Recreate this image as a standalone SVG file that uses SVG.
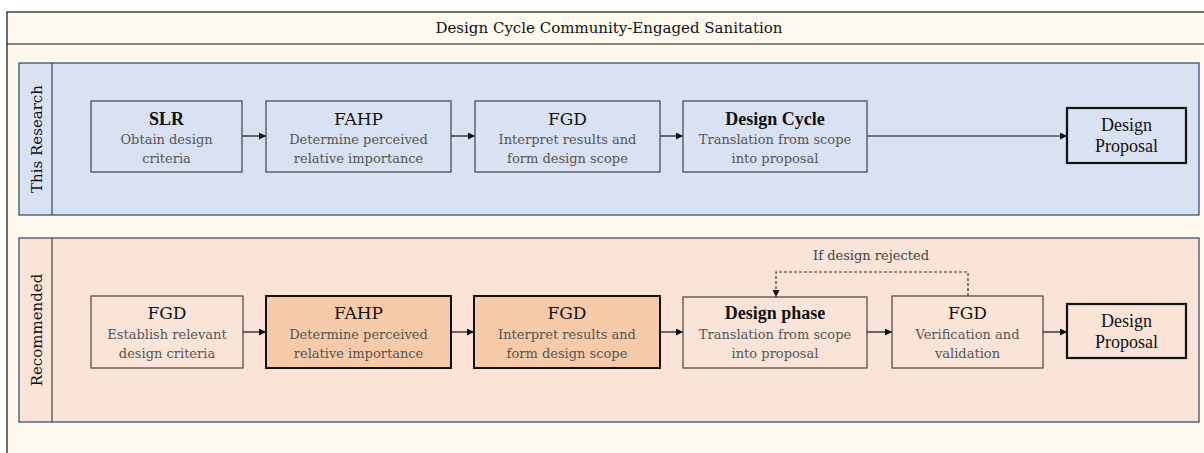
<svg xmlns="http://www.w3.org/2000/svg" width="1204" height="453" viewBox="0 0 1204 453">
<style>
text{font-family:"DejaVu Serif","Liberation Serif",serif;text-anchor:middle;}
.title{font-size:15px;fill:#111;}
.lane-label{font-size:15px;fill:#111;}
.nt{font-size:17px;fill:#111;}
.ntb{font-family:"Liberation Serif","DejaVu Serif",serif;font-size:18px;fill:#111;font-weight:bold;}
.sub{font-size:13px;fill:#555;}
.dp{font-family:"Liberation Serif","DejaVu Serif",serif;font-size:18px;fill:#111;}
.node{fill:none;stroke:#444;stroke-width:1.2;}
.hl{fill:#f7caa9;stroke:#111;stroke-width:2;}
.prop{fill:none;stroke:#111;stroke-width:2.2;}
.lane{stroke:#2b4468;stroke-width:1.2;}
.hdr{fill:none;stroke:#444;stroke-width:1.2;}
.conn{fill:none;stroke:#111;stroke-width:1.2;}
.dash{fill:none;stroke:#333;stroke-width:1.2;stroke-dasharray:3 2;}
.note{font-size:13px;fill:#444;}
</style>
<defs>
<marker id="ah" viewBox="0 0 10 10" refX="10" refY="5" markerWidth="7" markerHeight="7" orient="auto" markerUnits="userSpaceOnUse">
<path d="M0,0 L10,5 L0,10 z" fill="#111"/>
</marker>
</defs>
<rect x="0" y="0" width="1204" height="453" fill="#ffffff"/>
<g id="frame">
<rect x="7" y="12" width="1210" height="460" fill="#fef9ef" stroke="#111" stroke-width="1.2"/>
<line x1="7" y1="44" x2="1204" y2="44" stroke="#111" stroke-width="1.2"/>
<text class="title" x="609" y="33">Design Cycle Community-Engaged Sanitation</text>
</g>
<g id="lane-this-research">
<rect class="lane" x="19" y="63" width="1180" height="152" fill="#d9e2f3"/>
<line class="hdr" x1="52" y1="63" x2="52" y2="215"/>
<text class="lane-label" transform="translate(42,139) rotate(-90)">This Research</text>
</g>
<g id="lane-recommended">
<rect class="lane" x="19" y="238" width="1180" height="184" fill="#fae3d7"/>
<line class="hdr" x1="52" y1="238" x2="52" y2="422"/>
<text class="lane-label" transform="translate(42,330) rotate(-90)">Recommended</text>
</g>
<g id="connectors">
<line class="conn" x1="242" y1="136" x2="266" y2="136" marker-end="url(#ah)"/>
<line class="conn" x1="451" y1="136" x2="475" y2="136" marker-end="url(#ah)"/>
<line class="conn" x1="660" y1="136" x2="683" y2="136" marker-end="url(#ah)"/>
<line class="conn" x1="867" y1="136" x2="1067" y2="136" marker-end="url(#ah)"/>
<line class="conn" x1="243" y1="332" x2="266" y2="332" marker-end="url(#ah)"/>
<line class="conn" x1="451" y1="332" x2="474" y2="332" marker-end="url(#ah)"/>
<line class="conn" x1="660" y1="332" x2="683" y2="332" marker-end="url(#ah)"/>
<line class="conn" x1="867" y1="332" x2="892" y2="332" marker-end="url(#ah)"/>
<line class="conn" x1="1043" y1="332" x2="1067" y2="332" marker-end="url(#ah)"/>
<polyline class="dash" points="968,296 968,272 776,272 776,297" marker-end="url(#ah)"/>
<text class="note" x="871" y="260">If design rejected</text>
</g>
<g id="n-slr">
<rect class="node" x="91" y="101" width="151" height="71"/>
<text class="ntb" x="166.5" y="125">SLR</text>
<text class="sub" x="166.5" y="144">Obtain design</text>
<text class="sub" x="166.5" y="163">criteria</text>
</g>
<g id="n-fahp1">
<rect class="node" x="266" y="101" width="185" height="71"/>
<text class="nt" x="358.5" y="125">FAHP</text>
<text class="sub" x="358.5" y="144">Determine perceived</text>
<text class="sub" x="358.5" y="163">relative importance</text>
</g>
<g id="n-fgd1">
<rect class="node" x="475" y="101" width="185" height="71"/>
<text class="nt" x="567.5" y="125">FGD</text>
<text class="sub" x="567.5" y="144">Interpret results and</text>
<text class="sub" x="567.5" y="163">form design scope</text>
</g>
<g id="n-cycle">
<rect class="node" x="683" y="101" width="184" height="71"/>
<text class="ntb" x="775" y="125">Design Cycle</text>
<text class="sub" x="775" y="144">Translation from scope</text>
<text class="sub" x="775" y="163">into proposal</text>
</g>
<g id="n-prop1">
<rect class="prop" x="1067" y="108" width="119" height="55"/>
<text class="dp" x="1126.5" y="131">Design</text>
<text class="dp" x="1126.5" y="152">Proposal</text>
</g>
<g id="n-fgd2">
<rect class="node" x="91" y="296" width="152" height="72"/>
<text class="nt" x="167" y="319">FGD</text>
<text class="sub" x="167" y="339">Establish relevant</text>
<text class="sub" x="167" y="358">design criteria</text>
</g>
<g id="n-fahp2">
<rect class="hl" x="266" y="296" width="185" height="72"/>
<text class="nt" x="358.5" y="319">FAHP</text>
<text class="sub" x="358.5" y="339">Determine perceived</text>
<text class="sub" x="358.5" y="358">relative importance</text>
</g>
<g id="n-fgd3">
<rect class="hl" x="474" y="296" width="186" height="72"/>
<text class="nt" x="567" y="319">FGD</text>
<text class="sub" x="567" y="339">Interpret results and</text>
<text class="sub" x="567" y="358">form design scope</text>
</g>
<g id="n-phase">
<rect class="node" x="683" y="297" width="184" height="71"/>
<text class="ntb" x="775" y="319">Design phase</text>
<text class="sub" x="775" y="339">Translation from scope</text>
<text class="sub" x="775" y="358">into proposal</text>
</g>
<g id="n-fgd4">
<rect class="node" x="892" y="296" width="151" height="72"/>
<text class="nt" x="967.5" y="319">FGD</text>
<text class="sub" x="967.5" y="339">Verification and</text>
<text class="sub" x="967.5" y="358">validation</text>
</g>
<g id="n-prop2">
<rect class="prop" x="1067" y="304" width="119" height="54"/>
<text class="dp" x="1126.5" y="327">Design</text>
<text class="dp" x="1126.5" y="348">Proposal</text>
</g>
</svg>
